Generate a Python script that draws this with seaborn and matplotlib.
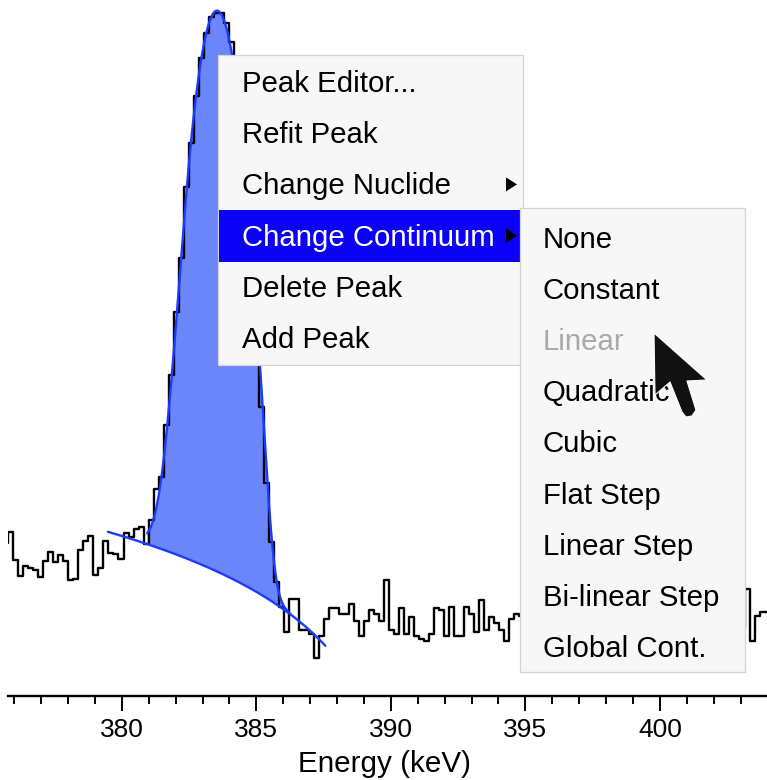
import numpy as np
import matplotlib
matplotlib.use("Agg")
import matplotlib.pyplot as plt
import seaborn as sns
import pandas as pd
from matplotlib.patches import Rectangle, Polygon
from matplotlib.ticker import MultipleLocator

# ---------------- data ----------------
energy_start = 375.591      # keV, lower edge of first channel drawn
channel_width = 0.1862      # keV per channel
counts = [
    108, 123, 89, 74, 83, 81, 79, 73, 88, 98, 87, 94, 88, 71, 72, 100, 111, 117,
    75, 81, 111, 97, 95, 90, 121, 116, 127, 130, 107, 141, 203, 233, 422, 750,
    1554, 2884, 6509, 10878, 18687, 28740, 38325, 46078, 48600, 48500, 43150,
    34670, 23710, 13340, 7080, 3550, 1585, 521, 216, 110, 69, 52, 39, 57, 57,
    40, 40, 38, 29, 37, 45, 51, 51, 48, 48, 54, 44, 37, 44, 50, 48, 44, 71, 40,
    38, 51, 38, 46, 37, 36, 35, 38, 51, 50, 37, 52, 37, 37, 52, 48, 39, 56, 40,
    46, 43, 40, 35, 45, 48,
    47, 41, 52, 38, 44, 49, 36, 42, 50, 45, 39, 47, 53, 40, 37, 46, 43, 51, 38,
    44, 48, 35, 41, 49, 45, 39, 52, 43, 37, 46, 50, 41, 36, 44, 48, 40, 45, 53,
    38, 42, 47, 39, 44, 49, 41,
    64, 35, 47, 49, 49,
]

peak_mean = 383.535
peak_sigma = 0.554
peak_amplitude = 49650
peak_tail = 2.31
continuum_at_mean = 78.1
continuum_slope = -11.15
roi_range = (380.94, 386.26)
continuum_range = (379.48, 387.56)

x_ticks = [375, 380, 385, 390, 395, 400]
x_label = "Energy (keV)"

menu_items = ["Peak Editor...", "Refit Peak", "Change Nuclide",
              "Change Continuum", "Delete Peak", "Add Peak"]
menu_has_sub = [False, False, True, True, False, False]
menu_selected = "Change Continuum"
submenu_items = ["None", "Constant", "Linear", "Quadratic", "Cubic",
                 "Flat Step", "Linear Step", "Bi-linear Step", "Global Cont."]
submenu_disabled = "Linear"

# ---------------- style ----------------
sns.set_theme(style="white")
plt.rcParams["font.family"] = ["Liberation Sans", "DejaVu Sans"]

W, H = 767, 780
fig = plt.figure(figsize=(W / 100, H / 100), dpi=100)
fig.patch.set_facecolor("white")

axis_px = 696.3
left_px = -40
ax = fig.add_axes([left_px / W, (H - axis_px) / H, (W - left_px) / W, axis_px / H])
ax.set_facecolor("white")

px_per_kev = 26.9
e_at_px = lambda px: 380 + (px - 121.9) / px_per_kev
xlim = (e_at_px(left_px), e_at_px(W))
ylim = (10 ** ((950 - axis_px) / 200), 10 ** 4.75)

edges = energy_start + channel_width * np.arange(len(counts) + 1)
step_df = pd.DataFrame({"energy": edges, "counts": list(counts) + [counts[-1]]})

sns.lineplot(data=step_df, x="energy", y="counts", drawstyle="steps-post",
             color="black", linewidth=1.7, ax=ax, zorder=3, sort=False)
hist_line = ax.lines[-1]

# fitted peak & continuum
def continuum(e):
    return continuum_at_mean + continuum_slope * (e - peak_mean)

def peak(e):
    t = (e - peak_mean) / peak_sigma
    g = np.exp(-0.5 * t ** 2)
    tail = np.exp(0.5 * peak_tail ** 2 + peak_tail * t)
    return peak_amplitude * np.where(t >= -peak_tail, g, tail)

e_roi = np.linspace(roi_range[0], roi_range[1], 600)
e_cont = np.linspace(continuum_range[0], continuum_range[1], 400)
ax.fill_between(e_roi, continuum(e_roi), continuum(e_roi) + peak(e_roi),
                color="#6b85fb", lw=0, zorder=2)
fit_df = pd.DataFrame({"energy": e_roi, "y": continuum(e_roi) + peak(e_roi)})
cont_df = pd.DataFrame({"energy": e_cont, "y": continuum(e_cont)})
sns.lineplot(data=fit_df, x="energy", y="y", color="#1b3cff", linewidth=1.7,
             ax=ax, zorder=4, sort=False)
sns.lineplot(data=cont_df, x="energy", y="y", color="#1b3cff", linewidth=1.7,
             ax=ax, zorder=4, sort=False)

ax.set_yscale("log")
ax.set_xlim(*xlim)
ax.set_ylim(*ylim)

# clip histogram at the left edge of the plotting area
spine_start = e_at_px(8.3)
clip = Rectangle(((8.3 - left_px) / (W - left_px), 0), 1, 1, transform=ax.transAxes)
hist_line.set_clip_path(clip)

for s in ["left", "right", "top"]:
    ax.spines[s].set_visible(False)
ax.spines["bottom"].set_visible(True)
ax.spines["bottom"].set_color("black")
ax.spines["bottom"].set_linewidth(1.7)
ax.spines["bottom"].set_bounds(spine_start, xlim[1])
ax.set_yticks([])
ax.minorticks_off()
ax.set_xticks(x_ticks)
ax.set_xticklabels([str(t) for t in x_ticks])
ax.xaxis.set_minor_locator(MultipleLocator(1))
ax.tick_params(axis="x", which="major", length=11, width=1.4, color="black",
               direction="out", labelsize=19, pad=4.5, labelcolor="black",
               bottom=True)
ax.tick_params(axis="x", which="minor", length=6, width=1.4, color="black",
               direction="out", bottom=True)
ax.yaxis.set_tick_params(which="both", left=False)
ax.set_xlabel(x_label, fontsize=21.3, color="black")
ax.xaxis.label.set_va("baseline")
ax.xaxis.set_label_coords((385 - left_px) / (W - left_px), (axis_px - 772) / axis_px)
ax.set_ylabel("")
ax.grid(False)

# ---------------- context menu overlay ----------------
def fx(x):
    return x / W

def fy(y):
    return 1 - y / H

def rect(x0, y0, x1, y1, fc, ec="none", lw=0, z=10):
    fig.add_artist(Rectangle((fx(x0), fy(y1)), fx(x1) - fx(x0), fy(y0) - fy(y1),
                             transform=fig.transFigure, facecolor=fc,
                             edgecolor=ec, linewidth=lw, zorder=z))

def tri(xc, yc, z=13):
    pts = [(fx(xc - 5), fy(yc - 7)), (fx(xc - 5), fy(yc + 7)), (fx(xc + 6), fy(yc))]
    fig.add_artist(Polygon(pts, closed=True, transform=fig.transFigure,
                           facecolor="black", edgecolor="none", zorder=z))

# the screenshot is cut a few pixels left of the plot area
rect(0, 700, 6.6, 780, "white", z=9)

menu_font = 21.2
row_h = 51.2

# main menu
rect(218, 55, 523, 365, "#f7f7f7", "#d3d3d3", 0.9, z=10)
for i, item in enumerate(menu_items):
    base = 92 + i * row_h
    color = "black"
    if item == menu_selected:
        rect(219, base - 36, 520, base + 16, "#0b00f8", z=11)
        color = "white"
    fig.text(fx(242), fy(base), item, fontsize=menu_font, color=color,
             ha="left", va="baseline", zorder=12)
    if menu_has_sub[i]:
        tri(511, base - 10)

# submenu
rect(520, 208, 745, 672, "#f7f7f7", "#d3d3d3", 0.9, z=14)
for i, item in enumerate(submenu_items):
    base = 247.5 + i * row_h
    color = "#a9a9a9" if item == submenu_disabled else "black"
    fig.text(fx(543), fy(base), item, fontsize=menu_font, color=color,
             ha="left", va="baseline", zorder=15)

# mouse cursor
cursor = [(654, 333), (655, 395), (670, 382), (682, 412), (686, 417),
          (692, 416), (696, 410), (687, 381), (707, 380)]
fig.add_artist(Polygon([(fx(x), fy(y)) for x, y in cursor], closed=True,
                       transform=fig.transFigure, facecolor="#111111",
                       edgecolor="white", linewidth=0.8, joinstyle="round",
                       zorder=20))

fig.savefig("out.png", dpi=100)
